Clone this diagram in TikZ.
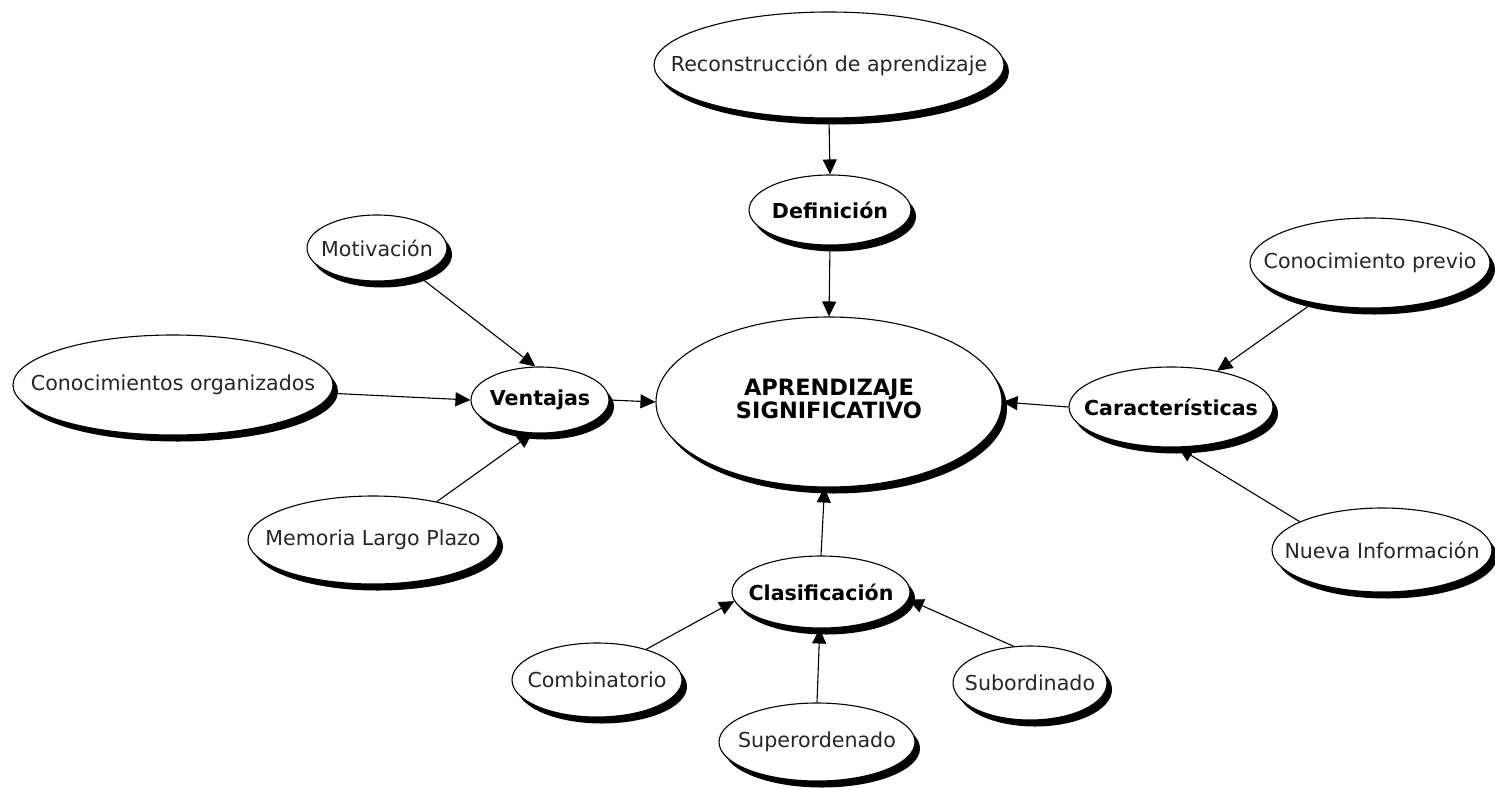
\documentclass[tikz,border=0pt]{standalone}
\usepackage{fontspec}
\setmainfont{DejaVu Sans}
\usetikzlibrary{shapes.geometric,shadows,arrows.meta}
% text set without width so the ellipse keeps the given size
\newcommand{\nowidth}[1]{\makebox[0pt]{#1}}
\begin{document}
\begin{tikzpicture}[x=1pt,y=-1pt,
  bubble/.style={ellipse,draw=black,line width=1.1pt,fill=white,inner sep=0pt,
    text=black!85,font=\fontsize{20.6}{24}\selectfont,
    drop shadow={shadow xshift=5pt,shadow yshift=-6.5pt,fill=black,opacity=1}},
  hub/.style={bubble,text=black,font=\fontsize{20.6}{24}\selectfont\bfseries},
  link/.style={line width=1.1pt,-{Triangle[length=15pt,width=14pt]}}]
\useasboundingbox (0,0) rectangle (1495,787);

% centre concept
\node[hub,minimum width=346pt,minimum height=170pt,font=\fontsize{22.5}{25}\selectfont\bfseries] (apr) at (829,402)
  {\nowidth{\begin{tabular}{@{}c@{}}APRENDIZAJE\\[-2pt]SIGNIFICATIVO\end{tabular}}};

% top branch
\node[bubble,minimum width=350pt,minimum height=106pt] (recon) at (829,65) {\nowidth{Reconstrucción de aprendizaje}};
\node[hub,minimum width=162pt,minimum height=70pt] (def) at (830,210) {\nowidth{Definición}};

% left branch
\node[bubble,minimum width=140pt,minimum height=66pt] (mot) at (377,248) {\nowidth{Motivación}};
\node[bubble,minimum width=320pt,minimum height=100pt] (conorg) at (173,385) {\nowidth{Conocimientos organizados}};
\node[hub,minimum width=138pt,minimum height=66pt] (ven) at (540,400) {\nowidth{Ventajas}};
\node[bubble,minimum width=250pt,minimum height=88pt] (mem) at (373,540) {\nowidth{Memoria Largo Plazo}};

% right branch
\node[bubble,minimum width=240pt,minimum height=90pt] (cp) at (1370,263) {\nowidth{Conocimiento previo}};
\node[hub,minimum width=204pt,minimum height=80pt] (car) at (1171,407) {\nowidth{Características}};
\node[bubble,minimum width=220pt,minimum height=84pt] (ni) at (1382,550) {\nowidth{Nueva Información}};

% bottom branch
\node[hub,minimum width=178pt,minimum height=72pt] (clas) at (821,592) {\nowidth{Clasificación}};
\node[bubble,minimum width=170pt,minimum height=74pt] (comb) at (597,680) {\nowidth{Combinatorio}};
\node[bubble,minimum width=196pt,minimum height=78pt] (sup) at (817,742) {\nowidth{Superordenado}};
\node[bubble,minimum width=154pt,minimum height=74pt] (sub) at (1030,683) {\nowidth{Subordinado}};

% connectors
\draw[link] (recon.south) -- (def.north);
\draw[link] (def.south) -- (apr.north);
\draw[link] (mot.-34) -- (ven.98);
\draw[link] (conorg.-3) -- (ven.west);
\draw[link] (mem.31) -- (ven.-103);
\draw[link] (ven.east) -- (apr.west);
\draw[link] (car.west) -- (apr.east);
\draw[link] (cp.-145) -- (car.38);
\draw[link] (ni.161) -- (car.-80);
\draw[link] (clas.north) -- (apr.-93);
\draw[link] (comb.32) -- (clas.186);
\draw[link] (sup.north) -- (clas.-92);
\draw[link] (sub.114) -- (clas.-5);
\end{tikzpicture}
\end{document}
